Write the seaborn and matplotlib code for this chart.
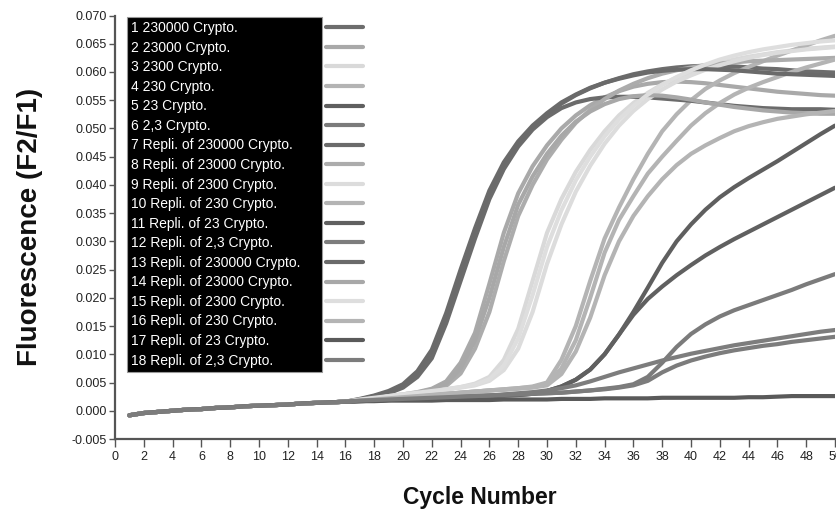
import numpy as np
import pandas as pd
import matplotlib
matplotlib.use("Agg")
import matplotlib.pyplot as plt
import seaborn as sns
from matplotlib.lines import Line2D

# ---------------- data (fluorescence values in units of 1e-3) ----------------
cycles = list(range(1, 51))
# shared early baseline, cycles 1..16
baseline_c1_16 = [-0.8, -0.4, -0.2, 0.0, 0.2, 0.3, 0.5, 0.6, 0.8, 0.9, 1.0, 1.1, 1.3, 1.4, 1.5, 1.6]

# each series below: cycles 17..50
s01 = [2.0, 2.6, 3.3, 4.4, 6.5, 10.0, 16.5, 24.0, 31.5, 38.4, 43.5, 47.3, 50.2, 52.5, 54.4, 55.9, 57.1, 58.1, 58.9, 59.6,
       60.1, 60.5, 60.8, 61.0, 61.1, 61.1, 61.0, 60.8, 60.6, 60.5, 60.3, 60.1, 60.0, 59.9]
s02 = [1.9, 2.2, 2.5, 2.9, 3.3, 3.9, 5.2, 8.5, 13.8, 22.5, 31.5, 38.5, 43.3, 47.0, 50.0, 52.3, 54.1, 55.5, 56.6, 57.4,
       57.9, 58.2, 58.3, 58.2, 58.0, 57.7, 57.4, 57.1, 56.8, 56.5, 56.3, 56.1, 55.9, 55.8]
s03 = [2.0, 2.3, 2.6, 2.9, 3.2, 3.5, 3.8, 4.2, 4.8, 6.0, 9.0, 14.5, 23.0, 31.5, 37.5, 42.3, 46.2, 49.5, 52.3, 54.5,
       56.3, 57.8, 59.0, 60.0, 60.9, 61.6, 62.2, 62.7, 63.1, 63.5, 63.8, 64.1, 64.3, 64.5]
s04 = [1.8, 2.0, 2.2, 2.4, 2.6, 2.8, 3.0, 3.2, 3.4, 3.6, 3.8, 4.0, 4.3, 5.0, 9.0, 15.0, 23.0, 30.5, 36.0, 41.0,
       45.5, 49.5, 52.5, 55.0, 57.0, 58.5, 59.8, 60.9, 61.9, 62.9, 63.8, 64.7, 65.6, 66.4]
s05 = [1.7, 1.8, 1.9, 2.0, 2.1, 2.2, 2.3, 2.4, 2.5, 2.6, 2.7, 2.8, 3.0, 3.5, 4.3, 5.5, 7.3, 10.0, 13.5, 17.5,
       21.8, 26.2, 30.0, 33.0, 35.6, 37.8, 39.6, 41.2, 42.7, 44.2, 45.8, 47.4, 49.0, 50.5]
s06 = [1.8, 1.9, 2.0, 2.1, 2.2, 2.3, 2.4, 2.5, 2.6, 2.7, 2.8, 2.9, 3.0, 3.1, 3.2, 3.4, 3.6, 3.9, 4.2, 4.7,
       6.0, 8.5, 11.3, 13.6, 15.3, 16.7, 17.8, 18.7, 19.6, 20.5, 21.4, 22.4, 23.3, 24.2]
s07 = [1.9, 2.4, 3.1, 4.1, 6.0, 9.3, 15.5, 23.0, 30.5, 37.5, 42.8, 46.8, 49.8, 52.0, 53.6, 54.6, 55.2, 55.5, 55.6, 55.6,
       55.5, 55.3, 55.1, 54.9, 54.6, 54.3, 54.0, 53.8, 53.6, 53.5, 53.4, 53.4, 53.4, 53.3]
s08 = [1.9, 2.1, 2.4, 2.7, 3.1, 3.6, 4.4, 6.6, 11.0, 17.5, 26.5, 34.5, 40.0, 44.5, 48.0, 51.0, 53.3, 55.2, 56.7, 57.9,
       58.9, 59.7, 60.3, 60.8, 61.2, 61.5, 61.7, 61.9, 62.0, 62.1, 62.2, 62.3, 62.4, 62.5]
s09 = [2.0, 2.3, 2.6, 2.9, 3.2, 3.5, 3.8, 4.1, 4.5, 5.3, 7.2, 11.0, 17.5, 26.0, 33.0, 38.8, 43.4, 47.3, 50.5, 53.1,
       55.2, 56.9, 58.3, 59.4, 60.4, 61.2, 61.9, 62.5, 63.0, 63.4, 63.7, 64.0, 64.2, 64.4]
s10 = [1.8, 2.0, 2.2, 2.4, 2.6, 2.8, 3.0, 3.2, 3.4, 3.6, 3.8, 4.0, 4.2, 4.7, 7.5, 12.5, 20.0, 28.0, 33.8, 38.0,
       42.0, 45.0, 47.8, 50.5, 52.7, 54.5, 56.0, 57.2, 58.2, 59.1, 60.0, 60.8, 61.5, 62.2]
s11 = [1.7, 1.8, 1.9, 2.0, 2.1, 2.2, 2.3, 2.4, 2.5, 2.6, 2.7, 2.8, 3.0, 3.5, 4.3, 5.5, 7.3, 10.0, 13.5, 17.0,
       19.8, 22.0, 24.0, 25.8, 27.5, 29.0, 30.4, 31.7, 33.0, 34.3, 35.6, 36.9, 38.2, 39.5]
s12 = [1.8, 1.9, 2.0, 2.1, 2.2, 2.3, 2.4, 2.5, 2.6, 2.7, 2.9, 3.1, 3.3, 3.6, 4.0, 4.5, 5.2, 6.0, 6.8, 7.5,
       8.2, 8.9, 9.5, 10.1, 10.6, 11.1, 11.6, 12.0, 12.4, 12.8, 13.2, 13.6, 14.0, 14.3]
s13 = [2.1, 2.7, 3.5, 4.7, 7.0, 10.8, 17.3, 25.0, 32.3, 39.0, 44.0, 47.7, 50.5, 52.7, 54.6, 56.0, 57.2, 58.1, 58.8, 59.4,
       59.9, 60.2, 60.4, 60.5, 60.5, 60.4, 60.3, 60.1, 59.9, 59.7, 59.6, 59.5, 59.4, 59.3]
s14 = [1.9, 2.2, 2.5, 2.8, 3.2, 3.8, 4.8, 7.5, 12.5, 20.0, 29.0, 36.5, 41.5, 45.5, 48.7, 51.2, 53.0, 54.3, 55.2, 55.7,
       55.9, 55.8, 55.5, 55.1, 54.6, 54.2, 53.8, 53.5, 53.2, 53.0, 52.8, 52.7, 52.6, 52.6]
s15 = [2.0, 2.3, 2.6, 2.9, 3.2, 3.5, 3.8, 4.2, 4.6, 5.6, 8.0, 12.8, 20.5, 29.0, 35.5, 40.8, 45.0, 48.6, 51.6, 54.0,
       56.0, 57.7, 59.1, 60.3, 61.3, 62.2, 62.9, 63.5, 64.0, 64.4, 64.8, 65.1, 65.4, 65.6]
s16 = [1.8, 2.0, 2.2, 2.4, 2.6, 2.8, 3.0, 3.2, 3.4, 3.6, 3.7, 3.9, 4.1, 4.5, 6.5, 10.5, 16.5, 24.0, 30.0, 34.5,
       38.0, 41.0, 43.5, 45.5, 47.0, 48.3, 49.5, 50.4, 51.1, 51.7, 52.1, 52.5, 52.8, 53.1]
s17 = [1.7, 1.7, 1.8, 1.8, 1.8, 1.8, 1.9, 1.9, 1.9, 1.9, 2.0, 2.0, 2.0, 2.0, 2.1, 2.1, 2.1, 2.2, 2.2, 2.2,
       2.2, 2.3, 2.3, 2.3, 2.3, 2.3, 2.3, 2.4, 2.4, 2.5, 2.6, 2.6, 2.6, 2.6]
s18 = [1.8, 1.9, 2.0, 2.1, 2.2, 2.3, 2.4, 2.5, 2.6, 2.7, 2.8, 2.9, 3.0, 3.1, 3.2, 3.4, 3.6, 3.8, 4.1, 4.5,
       5.3, 6.8, 8.0, 8.9, 9.6, 10.2, 10.7, 11.1, 11.5, 11.8, 12.2, 12.5, 12.8, 13.1]

labels = [
    "1 230000 Crypto.", "2 23000 Crypto.", "3 2300 Crypto.", "4 230 Crypto.",
    "5 23 Crypto.", "6 2,3 Crypto.", "7 Repli. of 230000 Crypto.", "8 Repli. of 23000 Crypto.",
    "9 Repli. of 2300 Crypto.", "10 Repli. of 230 Crypto.", "11 Repli. of 23 Crypto.",
    "12 Repli. of 2,3 Crypto.", "13 Repli. of 230000 Crypto.", "14 Repli. of 23000 Crypto.",
    "15 Repli. of 2300 Crypto.", "16 Repli. of 230 Crypto.", "17 Repli. of 23 Crypto.",
    "18 Repli. of 2,3 Crypto.",
]
colors = [
    "#6d6d6d", "#a9a9a9", "#d9d9d9", "#b4b4b4", "#5f5f5f", "#7b7b7b",
    "#6b6b6b", "#acacac", "#dcdcdc", "#b4b4b4", "#606060", "#7d7d7d",
    "#6a6a6a", "#a8a8a8", "#dedede", "#b4b4b4", "#5a5a5a", "#7c7c7c",
]
yticks = [-0.005, 0.000, 0.005, 0.010, 0.015, 0.020, 0.025, 0.030, 0.035,
          0.040, 0.045, 0.050, 0.055, 0.060, 0.065, 0.070]
xticks = list(range(0, 51, 2))

series = [s01, s02, s03, s04, s05, s06, s07, s08, s09, s10, s11, s12, s13, s14, s15, s16, s17, s18]

rows = []
for lab, s in zip(labels, series):
    vals = baseline_c1_16 + s
    for c, v in zip(cycles, vals):
        rows.append({"Cycle": c, "Fluor": v * 1e-3, "Series": lab})
df = pd.DataFrame(rows)

# ---------------- plot ----------------
sns.set_theme(style="white")
plt.rcParams['font.family'] = ['Liberation Sans', 'DejaVu Sans']

fig = plt.figure(figsize=(8.37, 5.12), dpi=100)
ax = fig.add_axes([115 / 837, 1 - 439 / 512, 720 / 837, 423.5 / 512])

sns.lineplot(data=df, x="Cycle", y="Fluor", hue="Series", hue_order=labels,
             palette=dict(zip(labels, colors)), linewidth=3, legend=False,
             estimator=None, sort=False, ax=ax)

ax.set_xlim(0, 50)
ax.set_ylim(-0.005, 0.070)
ax.set_xticks(xticks)
ax.set_yticks(yticks)
ax.set_yticklabels([f"{v:.3f}" for v in yticks])
ax.tick_params(axis="both", which="major", bottom=True, left=True, direction="out",
               color="#555555", labelcolor="#222222", labelsize=9, width=1)
ax.tick_params(axis="x", length=6, pad=3)
ax.tick_params(axis="y", length=4, pad=2)
for side in ["top", "right"]:
    ax.spines[side].set_visible(False)
for side in ["left", "bottom"]:
    ax.spines[side].set_color("#555555")
    ax.spines[side].set_linewidth(1.6)

ax.set_xlabel("Cycle Number", fontsize=16.5, fontweight="bold", color="#111111")
ax.xaxis.set_label_coords(0.507, -0.110)
ax.set_ylabel("Fluorescence (F2/F1)", fontsize=20, fontweight="bold", color="#111111")
ax.yaxis.set_label_coords(-0.100, 0.5)

# legend: text block on black, colour swatches to its right
top = 1 - (17 - 15.5) / 423.5
text_handles = [Line2D([], [], linestyle="none") for _ in labels]
leg1 = ax.legend(text_handles, labels, loc="upper left",
                 bbox_to_anchor=((127 - 115) / 720, top, (322 - 127) / 720, 0),
                 mode="expand", borderaxespad=0, borderpad=0.3, labelspacing=0.4,
                 handlelength=0, handletextpad=0, fontsize=10, labelcolor="white",
                 frameon=True, fancybox=False, facecolor="black", edgecolor="#999999",
                 framealpha=1)
leg1.get_frame().set_linewidth(0.8)
ax.add_artist(leg1)

swatch_handles = [Line2D([], [], color=c, linewidth=3) for c in colors]
leg2 = ax.legend(swatch_handles, labels, loc="upper left",
                 bbox_to_anchor=((322 - 115) / 720, top), borderaxespad=0,
                 borderpad=0.3, labelspacing=0.4, handlelength=2.66, handletextpad=0.3,
                 fontsize=10, labelcolor="none", frameon=False)

fig.savefig("out.png", dpi=100)
